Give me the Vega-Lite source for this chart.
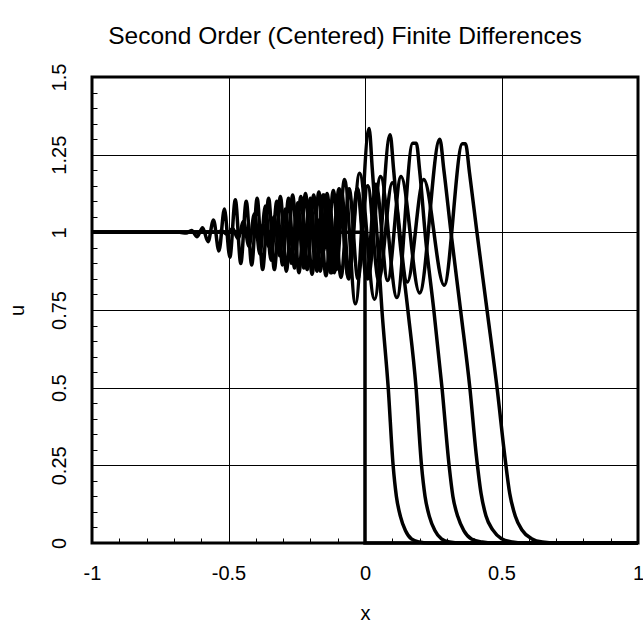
{
  "$schema": "https://vega.github.io/schema/vega-lite/v6.json",
  "width": 546,
  "height": 466,
  "autosize": {"type": "none"},
  "padding": {"left": 92, "top": 77, "right": 5, "bottom": 84},
  "background": "white",
  "title": {"text": "Second Order (Centered) Finite Differences", "fontSize": 24.5, "font": "Liberation Sans", "fontWeight": "normal", "color": "black", "anchor": "middle", "offset": 14, "dx": -20},
  "config": {
    "view": {"stroke": "black", "strokeWidth": 3},
    "axis": {"labelFont": "Liberation Sans", "titleFont": "Liberation Sans", "labelColor": "black", "titleColor": "black", "gridColor": "black", "gridWidth": 1, "tickColor": "black", "tickWidth": 1, "domain": false, "labelFontSize": 20, "titleFontSize": 20, "titleFontWeight": "normal", "labelFlush": false, "labelOverlap": false, "labelBound": false}
  },
  "data": {"values": [
    {"c": 0, "x": -1, "u": 1}, {"c": 0, "x": 0, "u": 1}, {"c": 0, "x": 0, "u": 0}, {"c": 0, "x": 1, "u": 0},
    {"c": 1, "x": -1, "u": 1}, {"c": 1, "x": -0.22, "u": 1}, {"c": 1, "x": -0.206, "u": 1.01}, {"c": 1, "x": -0.19, "u": 0.98}, {"c": 1, "x": -0.172, "u": 1.04}, {"c": 1, "x": -0.152, "u": 0.94}, {"c": 1, "x": -0.13, "u": 1.09}, {"c": 1, "x": -0.105, "u": 0.88}, {"c": 1, "x": -0.075, "u": 1.17}, {"c": 1, "x": -0.035, "u": 0.77}, {"c": 1, "x": 0.015, "u": 1.334}, {"c": 1, "x": 0.027, "u": 1.2}, {"c": 1, "x": 0.045, "u": 0.98}, {"c": 1, "x": 0.062, "u": 0.75}, {"c": 1, "x": 0.085, "u": 0.5}, {"c": 1, "x": 0.103, "u": 0.25}, {"c": 1, "x": 0.115, "u": 0.15}, {"c": 1, "x": 0.13, "u": 0.085}, {"c": 1, "x": 0.148, "u": 0.04}, {"c": 1, "x": 0.17, "u": 0.013}, {"c": 1, "x": 0.2, "u": 0.003}, {"c": 1, "x": 0.23, "u": 0}, {"c": 1, "x": 1, "u": 0},
    {"c": 2, "x": -1, "u": 1}, {"c": 2, "x": -0.335, "u": 1}, {"c": 2, "x": -0.32, "u": 1.006}, {"c": 2, "x": -0.304, "u": 0.985}, {"c": 2, "x": -0.286, "u": 1.025}, {"c": 2, "x": -0.267, "u": 0.96}, {"c": 2, "x": -0.247, "u": 1.055}, {"c": 2, "x": -0.226, "u": 0.925}, {"c": 2, "x": -0.204, "u": 1.09}, {"c": 2, "x": -0.18, "u": 0.89}, {"c": 2, "x": -0.154, "u": 1.12}, {"c": 2, "x": -0.126, "u": 0.87}, {"c": 2, "x": -0.095, "u": 1.14}, {"c": 2, "x": -0.06, "u": 0.85}, {"c": 2, "x": -0.02, "u": 1.19}, {"c": 2, "x": 0.035, "u": 0.785}, {"c": 2, "x": 0.092, "u": 1.314}, {"c": 2, "x": 0.105, "u": 1.2}, {"c": 2, "x": 0.127, "u": 0.98}, {"c": 2, "x": 0.157, "u": 0.75}, {"c": 2, "x": 0.187, "u": 0.5}, {"c": 2, "x": 0.207, "u": 0.25}, {"c": 2, "x": 0.22, "u": 0.15}, {"c": 2, "x": 0.236, "u": 0.085}, {"c": 2, "x": 0.256, "u": 0.04}, {"c": 2, "x": 0.28, "u": 0.013}, {"c": 2, "x": 0.31, "u": 0.003}, {"c": 2, "x": 0.35, "u": 0}, {"c": 2, "x": 1, "u": 0},
    {"c": 3, "x": -1, "u": 1}, {"c": 3, "x": -0.425, "u": 1}, {"c": 3, "x": -0.41, "u": 1.008}, {"c": 3, "x": -0.392, "u": 0.98}, {"c": 3, "x": -0.373, "u": 1.025}, {"c": 3, "x": -0.353, "u": 0.955}, {"c": 3, "x": -0.333, "u": 1.05}, {"c": 3, "x": -0.313, "u": 0.925}, {"c": 3, "x": -0.292, "u": 1.075}, {"c": 3, "x": -0.27, "u": 0.9}, {"c": 3, "x": -0.247, "u": 1.095}, {"c": 3, "x": -0.224, "u": 0.885}, {"c": 3, "x": -0.2, "u": 1.11}, {"c": 3, "x": -0.176, "u": 0.875}, {"c": 3, "x": -0.15, "u": 1.12}, {"c": 3, "x": -0.122, "u": 0.87}, {"c": 3, "x": -0.093, "u": 1.13}, {"c": 3, "x": -0.062, "u": 0.86}, {"c": 3, "x": -0.028, "u": 1.14}, {"c": 3, "x": 0.01, "u": 0.85}, {"c": 3, "x": 0.057, "u": 1.18}, {"c": 3, "x": 0.117, "u": 0.79}, {"c": 3, "x": 0.175, "u": 1.287}, {"c": 3, "x": 0.188, "u": 1.287}, {"c": 3, "x": 0.2, "u": 1.2}, {"c": 3, "x": 0.222, "u": 0.98}, {"c": 3, "x": 0.252, "u": 0.75}, {"c": 3, "x": 0.282, "u": 0.5}, {"c": 3, "x": 0.308, "u": 0.25}, {"c": 3, "x": 0.322, "u": 0.15}, {"c": 3, "x": 0.34, "u": 0.085}, {"c": 3, "x": 0.362, "u": 0.04}, {"c": 3, "x": 0.39, "u": 0.013}, {"c": 3, "x": 0.43, "u": 0.003}, {"c": 3, "x": 0.47, "u": 0}, {"c": 3, "x": 1, "u": 0},
    {"c": 4, "x": -1, "u": 1}, {"c": 4, "x": -0.545, "u": 1}, {"c": 4, "x": -0.525, "u": 1.004}, {"c": 4, "x": -0.505, "u": 0.994}, {"c": 4, "x": -0.485, "u": 1.012}, {"c": 4, "x": -0.465, "u": 0.98}, {"c": 4, "x": -0.445, "u": 1.035}, {"c": 4, "x": -0.425, "u": 0.955}, {"c": 4, "x": -0.405, "u": 1.06}, {"c": 4, "x": -0.385, "u": 0.93}, {"c": 4, "x": -0.365, "u": 1.085}, {"c": 4, "x": -0.344, "u": 0.91}, {"c": 4, "x": -0.323, "u": 1.1}, {"c": 4, "x": -0.302, "u": 0.895}, {"c": 4, "x": -0.28, "u": 1.11}, {"c": 4, "x": -0.258, "u": 0.885}, {"c": 4, "x": -0.235, "u": 1.115}, {"c": 4, "x": -0.212, "u": 0.88}, {"c": 4, "x": -0.188, "u": 1.12}, {"c": 4, "x": -0.164, "u": 0.875}, {"c": 4, "x": -0.139, "u": 1.125}, {"c": 4, "x": -0.113, "u": 0.87}, {"c": 4, "x": -0.086, "u": 1.13}, {"c": 4, "x": -0.058, "u": 0.865}, {"c": 4, "x": -0.028, "u": 1.14}, {"c": 4, "x": 0.005, "u": 0.855}, {"c": 4, "x": 0.04, "u": 1.155}, {"c": 4, "x": 0.083, "u": 0.845}, {"c": 4, "x": 0.132, "u": 1.18}, {"c": 4, "x": 0.2, "u": 0.805}, {"c": 4, "x": 0.274, "u": 1.3}, {"c": 4, "x": 0.289, "u": 1.2}, {"c": 4, "x": 0.315, "u": 1.0}, {"c": 4, "x": 0.35, "u": 0.75}, {"c": 4, "x": 0.384, "u": 0.5}, {"c": 4, "x": 0.408, "u": 0.28}, {"c": 4, "x": 0.425, "u": 0.16}, {"c": 4, "x": 0.443, "u": 0.088}, {"c": 4, "x": 0.468, "u": 0.042}, {"c": 4, "x": 0.5, "u": 0.014}, {"c": 4, "x": 0.54, "u": 0.003}, {"c": 4, "x": 0.58, "u": 0}, {"c": 4, "x": 1, "u": 0},
    {"c": 5, "x": -1, "u": 1}, {"c": 5, "x": -0.68, "u": 1}, {"c": 5, "x": -0.655, "u": 0.998}, {"c": 5, "x": -0.635, "u": 1.006}, {"c": 5, "x": -0.615, "u": 0.986}, {"c": 5, "x": -0.595, "u": 1.015}, {"c": 5, "x": -0.575, "u": 0.97}, {"c": 5, "x": -0.555, "u": 1.04}, {"c": 5, "x": -0.535, "u": 0.94}, {"c": 5, "x": -0.515, "u": 1.075}, {"c": 5, "x": -0.495, "u": 0.92}, {"c": 5, "x": -0.475, "u": 1.105}, {"c": 5, "x": -0.455, "u": 0.9}, {"c": 5, "x": -0.435, "u": 1.1}, {"c": 5, "x": -0.415, "u": 0.895}, {"c": 5, "x": -0.395, "u": 1.11}, {"c": 5, "x": -0.375, "u": 0.88}, {"c": 5, "x": -0.353, "u": 1.11}, {"c": 5, "x": -0.332, "u": 0.88}, {"c": 5, "x": -0.31, "u": 1.115}, {"c": 5, "x": -0.288, "u": 0.875}, {"c": 5, "x": -0.265, "u": 1.12}, {"c": 5, "x": -0.242, "u": 0.87}, {"c": 5, "x": -0.218, "u": 1.125}, {"c": 5, "x": -0.194, "u": 0.865}, {"c": 5, "x": -0.169, "u": 1.13}, {"c": 5, "x": -0.143, "u": 0.86}, {"c": 5, "x": -0.116, "u": 1.135}, {"c": 5, "x": -0.088, "u": 0.855}, {"c": 5, "x": -0.058, "u": 1.14}, {"c": 5, "x": -0.026, "u": 0.85}, {"c": 5, "x": 0.01, "u": 1.15}, {"c": 5, "x": 0.05, "u": 0.845}, {"c": 5, "x": 0.1, "u": 1.16}, {"c": 5, "x": 0.155, "u": 0.84}, {"c": 5, "x": 0.215, "u": 1.17}, {"c": 5, "x": 0.29, "u": 0.83}, {"c": 5, "x": 0.357, "u": 1.285}, {"c": 5, "x": 0.368, "u": 1.285}, {"c": 5, "x": 0.383, "u": 1.19}, {"c": 5, "x": 0.41, "u": 1.0}, {"c": 5, "x": 0.447, "u": 0.75}, {"c": 5, "x": 0.485, "u": 0.49}, {"c": 5, "x": 0.512, "u": 0.28}, {"c": 5, "x": 0.53, "u": 0.16}, {"c": 5, "x": 0.55, "u": 0.088}, {"c": 5, "x": 0.575, "u": 0.042}, {"c": 5, "x": 0.61, "u": 0.014}, {"c": 5, "x": 0.65, "u": 0.003}, {"c": 5, "x": 0.7, "u": 0}, {"c": 5, "x": 1, "u": 0}
  ]},
  "encoding": {
    "x": {"field": "x", "type": "quantitative", "scale": {"domain": [-1, 1], "nice": false, "zero": false},
      "axis": {"title": "x", "titlePadding": 20, "labelPadding": 25, "tickSize": -5, "grid": true,
        "values": [-1, -0.9, -0.8, -0.7, -0.6, -0.5, -0.4, -0.3, -0.2, -0.1, 0, 0.1, 0.2, 0.3, 0.4, 0.5, 0.6, 0.7, 0.8, 0.9, 1],
        "labelExpr": "abs(datum.value*2 - round(datum.value*2)) < 0.001 ? toString(datum.value) : ''",
        "gridOpacity": {"condition": {"test": "abs(datum.value*2 - round(datum.value*2)) < 0.001", "value": 1}, "value": 0}}},
    "y": {"field": "u", "type": "quantitative", "scale": {"domain": [0, 1.5], "nice": false, "zero": false},
      "axis": {"title": "u", "titlePadding": 22, "labelPadding": 28, "tickSize": -5, "grid": true, "labelAngle": 270, "labelAlign": "center", "labelBaseline": "bottom",
        "values": [0, 0.05, 0.1, 0.15, 0.2, 0.25, 0.3, 0.35, 0.4, 0.45, 0.5, 0.55, 0.6, 0.65, 0.7, 0.75, 0.8, 0.85, 0.9, 0.95, 1, 1.05, 1.1, 1.15, 1.2, 1.25, 1.3, 1.35, 1.4, 1.45, 1.5],
        "labelExpr": "abs(datum.value*4 - round(datum.value*4)) < 0.001 ? toString(datum.value) : ''",
        "gridOpacity": {"condition": {"test": "abs(datum.value*4 - round(datum.value*4)) < 0.001", "value": 1}, "value": 0}}}
  },
  "layer": [
    {"transform": [{"filter": "datum.c > 0"}], "mark": {"type": "line", "interpolate": "monotone", "color": "black", "strokeWidth": 3.5}, "encoding": {"detail": {"field": "c", "type": "nominal"}}},
    {"transform": [{"filter": "datum.c == 0"}], "mark": {"type": "line", "color": "black", "strokeWidth": 3.5}, "encoding": {"order": {"value": null}}}
  ]
}
